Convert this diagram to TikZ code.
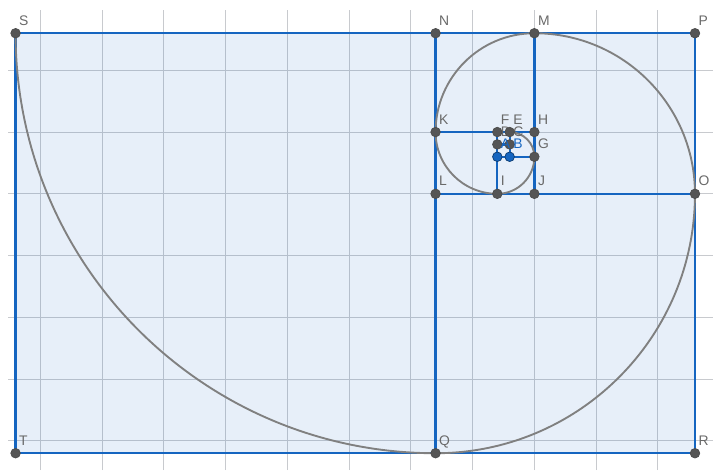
\documentclass[tikz,border=0pt]{standalone}
\usepackage{fontspec}
\setmainfont{Liberation Sans}
\usetikzlibrary{positioning}
\definecolor{geoblue}{RGB}{21,101,192}
\definecolor{gridgray}{RGB}{200,202,206}
\definecolor{ptgray}{RGB}{85,85,85}
\definecolor{lblgray}{RGB}{105,105,105}
\definecolor{spiralgray}{RGB}{128,128,128}

\begin{document}
\begin{tikzpicture}[x=0.3cm, y=0.3cm, side/.style={geoblue, line width=1.6pt}, spiral/.style={spiralgray, line width=1.3pt}, gridline/.style={gridgray, line width=0.6pt}, pt/.style={circle, fill=ptgray, draw=black!70, line width=0.5pt, inner sep=0pt, minimum size=6.6pt}, freept/.style={pt, fill=geoblue, draw=geoblue!60!black}, lbl/.style={anchor=base west, inner sep=0pt, xshift=2.3pt, yshift=5.5pt, text=lblgray, font=\fontsize{9.6}{11}\selectfont}]
\useasboundingbox (-38.26,-22.36) rectangle (19.46,15.69);
% grid
\foreach \x in {-35,-30,...,15} \draw[gridline] (\x,-22.36) -- (\x,14.88);
\foreach \y in {-20,-15,...,10} \draw[gridline] (-37.6,\y) -- (19.46,\y);
% points
\coordinate (A) at (2,3);
\coordinate (B) at (3,3);
\coordinate (C) at (3,4);
\coordinate (D) at (2,4);
\coordinate (E) at (3,5);
\coordinate (F) at (2,5);
\coordinate (G) at (5,3);
\coordinate (H) at (5,5);
\coordinate (I) at (2,0);
\coordinate (J) at (5,0);
\coordinate (K) at (-3,5);
\coordinate (L) at (-3,0);
\coordinate (M) at (5,13);
\coordinate (N) at (-3,13);
\coordinate (O) at (18,0);
\coordinate (P) at (18,13);
\coordinate (Q) at (-3,-21);
\coordinate (R) at (18,-21);
\coordinate (S) at (-37,13);
\coordinate (T) at (-37,-21);
\fill[geoblue, fill opacity=0.1] (S) rectangle (R);
% squares
\draw[side] (S) -- (P) -- (R) -- (T) -- cycle;
\draw[side] (N) -- (Q);
\draw[side] (L) -- (O);
\draw[side] (M) -- (J);
\draw[side] (K) -- (H);
\draw[side] (F) -- (I);
\draw[side] (A) -- (G);
\draw[side] (E) -- (B);
\draw[side] (D) -- (C);
% spiral
\draw[spiral] (S) arc[start angle=180, end angle=270, radius=34] arc[start angle=270, end angle=360, radius=21] arc[start angle=0, end angle=90, radius=13] arc[start angle=90, end angle=180, radius=8] arc[start angle=180, end angle=270, radius=5] arc[start angle=270, end angle=360, radius=3] arc[start angle=0, end angle=90, radius=2];
\foreach \p in {C,D,E,F,G,H,I,J,K,L,M,N,O,P,Q,R,S,T} {
  \node[pt] (pt\p) at (\p) {};
  \node[lbl] (lbl\p) at (\p) {\p};
}
\foreach \p in {A,B} {
  \node[freept] (pt\p) at (\p) {};
  \node[lbl, text=geoblue] (lbl\p) at (\p) {\p};
}
\end{tikzpicture}
\end{document}
